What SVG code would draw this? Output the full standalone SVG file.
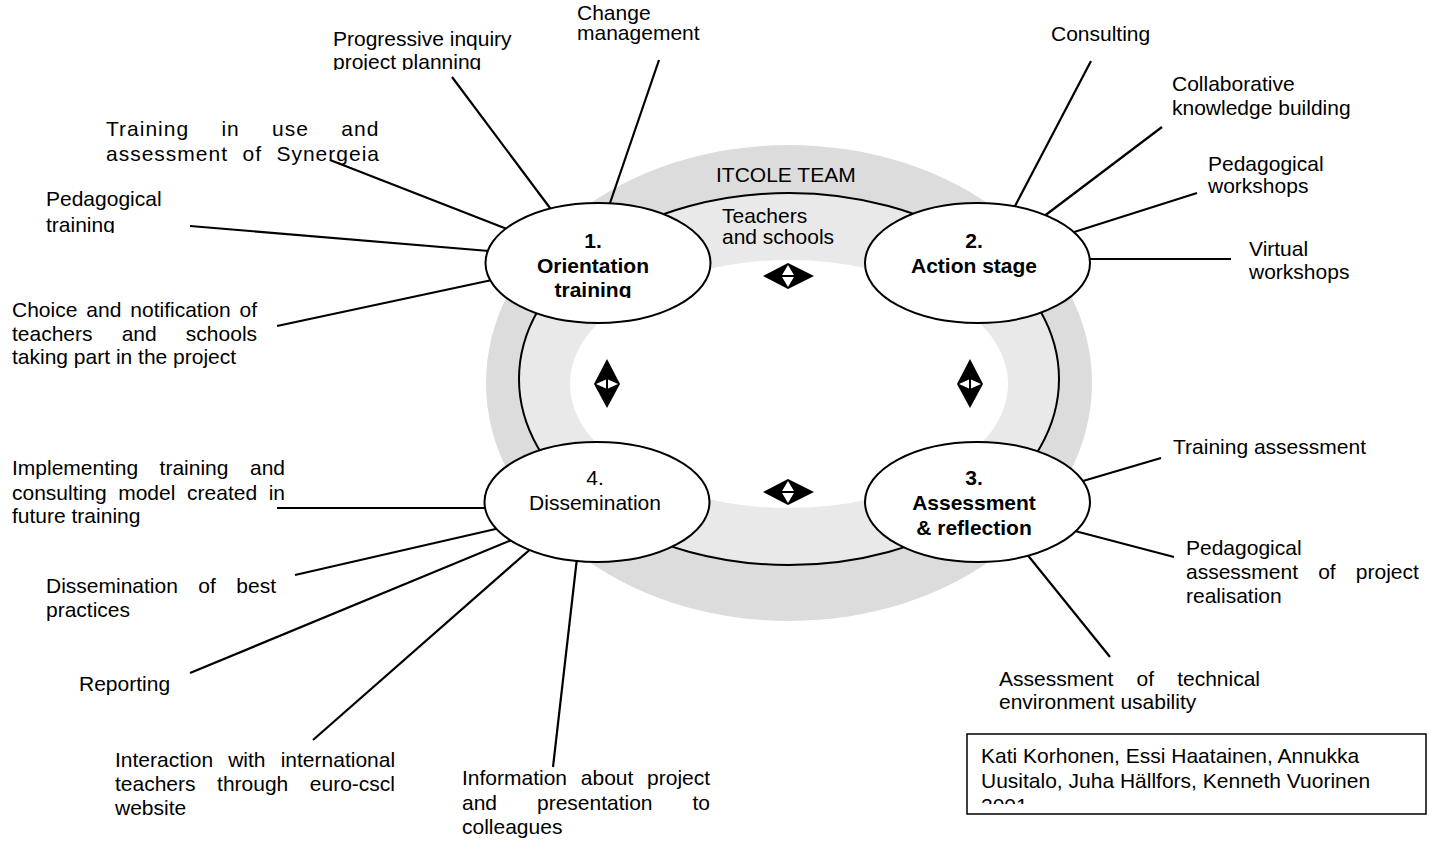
<svg xmlns="http://www.w3.org/2000/svg" xmlns:xlink="http://www.w3.org/1999/xlink" width="1437" height="841" viewBox="0 0 1437 841">
<style>
.t{font-family:"Liberation Sans",Arial,Helvetica,sans-serif;font-size:21px;fill:#000}
.b{font-weight:bold}
.c{text-anchor:middle}
.ln{stroke:#000;stroke-width:2.2;fill:none}
.node{fill:#fff;stroke:#000;stroke-width:2}
</style>
<defs>
<g id="arrH"><path d="M-25,0 L0,-13 L26,0 L0,13 Z" fill="#000"/><path d="M-6.5,0 L0,-11 L6.5,0 L0,11 Z" fill="#fff"/><line x1="-7" y1="0" x2="7" y2="0" stroke="#000" stroke-width="2"/></g>
<g id="arrV"><path d="M0,-25 L13,0 L0,24 L-13,0 Z" fill="#000"/><path d="M-11,0 L0,-5 L11,0 L0,5 Z" fill="#fff"/><line x1="0" y1="-6" x2="0" y2="6" stroke="#000" stroke-width="2"/></g>
<clipPath id="cpPlan"><rect x="320" y="0" width="260" height="70"/></clipPath>
<clipPath id="cpMgmt"><rect x="560" y="0" width="200" height="45"/></clipPath>
<clipPath id="cpPedT"><rect x="30" y="170" width="200" height="63"/></clipPath>
<clipPath id="cpTeach"><rect x="700" y="190" width="200" height="54.5"/></clipPath>
<clipPath id="cpN1"><rect x="480" y="200" width="240" height="98"/></clipPath>
<clipPath id="cpBox"><rect x="967" y="734" width="459" height="70"/></clipPath>
</defs>

<g id="background">
<ellipse cx="789" cy="383" rx="303" ry="238" fill="#dcdcdc"/>
<ellipse cx="789" cy="379" rx="270" ry="186" fill="#e9e9e9" stroke="#000" stroke-width="2"/>
<ellipse cx="789" cy="384" rx="219" ry="124" fill="#fff"/>
<text class="t" x="716" y="182">ITCOLE TEAM</text>
<g clip-path="url(#cpTeach)"><text class="t" x="722" y="223">Teachers</text><text class="t" x="722" y="244">and schools</text></g>
</g>

<g id="connectors">
<line class="ln" x1="452" y1="77" x2="553" y2="212"/>
<line class="ln" x1="659" y1="60" x2="609" y2="206"/>
<line class="ln" x1="330" y1="160" x2="507" y2="229"/>
<line class="ln" x1="190" y1="226" x2="489" y2="251"/>
<line class="ln" x1="277" y1="326" x2="492" y2="280"/>
<line class="ln" x1="1091" y1="61" x2="1014" y2="208"/>
<line class="ln" x1="1162" y1="127" x2="1043" y2="217"/>
<line class="ln" x1="1197" y1="193" x2="1071" y2="233"/>
<line class="ln" x1="1231" y1="259" x2="1086" y2="259"/>
<line class="ln" x1="1161" y1="458" x2="1083" y2="481"/>
<line class="ln" x1="1174" y1="557" x2="1075" y2="531"/>
<line class="ln" x1="1110" y1="657" x2="1026" y2="553"/>
<line class="ln" x1="277" y1="508" x2="488" y2="508"/>
<line class="ln" x1="295" y1="575" x2="500" y2="528"/>
<line class="ln" x1="190" y1="673" x2="514" y2="539"/>
<line class="ln" x1="313" y1="740" x2="534" y2="546"/>
<line class="ln" x1="553" y1="767" x2="577" y2="558"/>
</g>

<g id="node1">
<ellipse class="node" cx="598" cy="263" rx="112.5" ry="60"/>
<g clip-path="url(#cpN1)">
<text class="t b c" x="593" y="248">1.</text>
<text class="t b c" x="593" y="273">Orientation</text>
<text class="t b c" x="593" y="297">training</text>
</g>
</g>
<g id="node2">
<ellipse class="node" cx="977.5" cy="263" rx="112.5" ry="60"/>
<text class="t b c" x="974" y="248">2.</text>
<text class="t b c" x="974" y="273">Action stage</text>
</g>
<g id="node3">
<ellipse class="node" cx="977.5" cy="502" rx="112.5" ry="60"/>
<text class="t b c" x="974" y="485">3.</text>
<text class="t b c" x="974" y="510">Assessment</text>
<text class="t b c" x="974" y="535">&amp; reflection</text>
</g>
<g id="node4">
<ellipse class="node" cx="597" cy="502" rx="112.5" ry="60"/>
<text class="t c" x="595" y="485">4.</text>
<text class="t c" x="595" y="510">Dissemination</text>
</g>

<g id="arrows">
<use xlink:href="#arrH" transform="translate(788,276)"/>
<use xlink:href="#arrH" transform="translate(788,492)"/>
<use xlink:href="#arrV" transform="translate(607,384)"/>
<use xlink:href="#arrV" transform="translate(970,384)"/>
</g>

<g id="label-change"><g clip-path="url(#cpMgmt)"><text class="t" x="577" y="19.5">Change</text><text class="t" x="577" y="40">management</text></g></g>
<g id="label-progressive"><g clip-path="url(#cpPlan)"><text class="t" x="333" y="46">Progressive inquiry</text><text class="t" x="333" y="69">project planning</text></g></g>
<g id="label-synergeia">
<text class="t" x="106" y="136" letter-spacing="1" word-spacing="25.5">Training in use and</text>
<text class="t" x="106" y="161" letter-spacing="1" word-spacing="7.6">assessment of Synergeia</text>
</g>
<g id="label-pedtraining"><g clip-path="url(#cpPedT)"><text class="t" x="46" y="206">Pedagogical</text><text class="t" x="46" y="232">training</text></g></g>
<g id="label-choice">
<text class="t" x="12" y="317" word-spacing="3.1">Choice and notification of</text>
<text class="t" x="12" y="341" word-spacing="23.3">teachers and schools</text>
<text class="t" x="12" y="364">taking part in the project</text>
</g>
<g id="label-consulting"><text class="t" x="1051" y="41">Consulting</text></g>
<g id="label-collab"><text class="t" x="1172" y="91">Collaborative</text><text class="t" x="1172" y="115">knowledge building</text></g>
<g id="label-pedworkshops"><text class="t" x="1208" y="171">Pedagogical</text><text class="t" x="1208" y="193">workshops</text></g>
<g id="label-virtual"><text class="t" x="1249" y="256">Virtual</text><text class="t" x="1249" y="279">workshops</text></g>
<g id="label-trainassess"><text class="t" x="1173" y="454">Training assessment</text></g>
<g id="label-pedassess">
<text class="t" x="1186" y="555">Pedagogical</text>
<text class="t" x="1186" y="579" word-spacing="14.3">assessment of project</text>
<text class="t" x="1186" y="603">realisation</text>
</g>
<g id="label-technical">
<text class="t" x="999" y="686" word-spacing="17.3">Assessment of technical</text>
<text class="t" x="999" y="709">environment usability</text>
</g>
<g id="label-implementing">
<text class="t" x="12" y="475" word-spacing="15.7">Implementing training and</text>
<text class="t" x="12" y="499.5" word-spacing="5.8">consulting model created in</text>
<text class="t" x="12" y="523">future training</text>
</g>
<g id="label-bestpractices">
<text class="t" x="46" y="593" word-spacing="14.6">Dissemination of best</text>
<text class="t" x="46" y="617">practices</text>
</g>
<g id="label-reporting"><text class="t" x="79" y="691">Reporting</text></g>
<g id="label-interaction">
<text class="t" x="115" y="767" word-spacing="9.3">Interaction with international</text>
<text class="t" x="115" y="791" word-spacing="15.7">teachers through euro-cscl</text>
<text class="t" x="115" y="815">website</text>
</g>
<g id="label-information">
<text class="t" x="462" y="785" word-spacing="7.9">Information about project</text>
<text class="t" x="462" y="810" word-spacing="34.1">and presentation to</text>
<text class="t" x="462" y="834">colleagues</text>
</g>
<g id="credits">
<rect x="967" y="734" width="459" height="80" fill="#fff" stroke="#000" stroke-width="1.5"/>
<g clip-path="url(#cpBox)">
<text class="t" x="981" y="763">Kati Korhonen, Essi Haatainen, Annukka</text>
<text class="t" x="981" y="788">Uusitalo, Juha Hällfors, Kenneth Vuorinen</text>
<text class="t" x="981" y="813">2001</text>
</g>
</g>
</svg>
